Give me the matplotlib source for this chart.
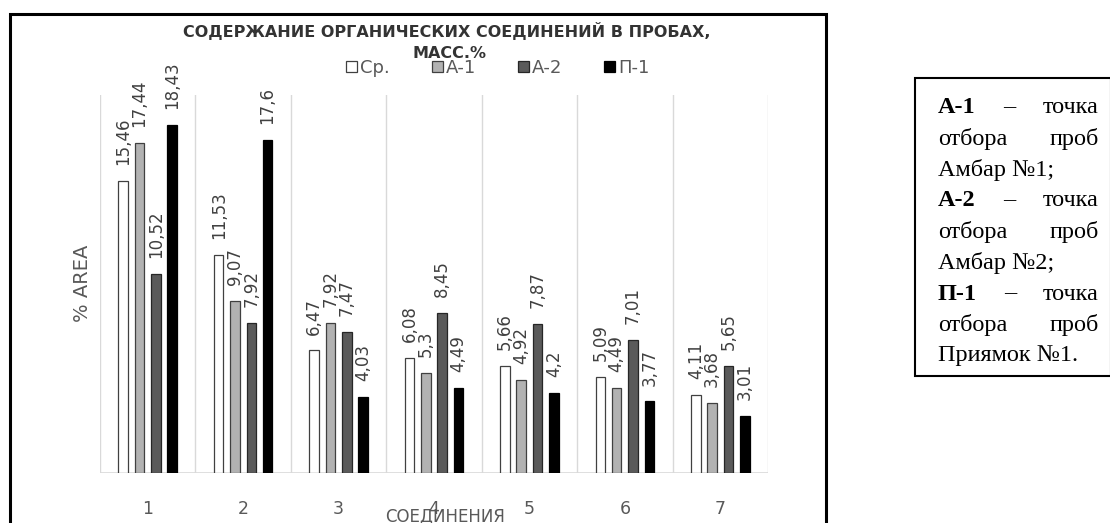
import numpy as np
import matplotlib
matplotlib.use("Agg")
import matplotlib.pyplot as plt
from matplotlib.patches import Patch, Rectangle

# содержание органических соединений, масс.%
compounds = ["1", "2", "3", "4", "5", "6", "7"]
series = ["Ср.", "А-1", "А-2", "П-1"]
sr = [15.46, 11.53, 6.47, 6.08, 5.66, 5.09, 4.11]
a1 = [17.44, 9.07, 7.92, 5.3, 4.92, 4.49, 3.68]
a2 = [10.52, 7.92, 7.47, 8.45, 7.87, 7.01, 5.65]
p1 = [18.43, 17.6, 4.03, 4.49, 4.2, 3.77, 3.01]

fills = ["white", "#b2b2b2", "#5a5a5a", "black"]
edges = ["#404040", "#404040", "#262626", "black"]

W, H = 1110, 523
fig = plt.figure(figsize=(W / 100, H / 100), dpi=100)
plt.rcParams["font.family"] = ["DejaVu Sans"]

ax = fig.add_axes([100 / W, 1 - 472.7 / H, 668 / W, 377.8 / H])
x = np.arange(1, len(compounds) + 1)
step, bw = 0.171, 0.1
for i, vals in enumerate([sr, a1, a2, p1]):
    pos = x + (i - 1.5) * step
    ax.bar(pos, vals, width=bw, color=fills[i], edgecolor=edges[i], linewidth=0.9, zorder=3)
    for xp, v in zip(pos, vals):
        ax.annotate(f"{v:g}".replace(".", ","), (xp, v), xytext=(0, 11.5),
                    textcoords="offset points", rotation=90, ha="center", va="bottom",
                    fontsize=12, color="#404040")

ax.set_xlim(0.5, 7.5)
ax.set_ylim(0, 20)
ax.set_xticks(x)
ax.set_xticklabels(compounds, fontsize=12.5, color="#595959")
ax.set_xticks(np.arange(0.5, 7.6, 1), minor=True)
ax.tick_params(axis="x", which="both", length=0, pad=20)
ax.set_yticks([])
ax.grid(axis="x", which="minor", color="#d9d9d9", linewidth=1, zorder=0)
ax.axhline(0, color="#d9d9d9", linewidth=1.2, zorder=1)
for s in ax.spines.values():
    s.set_visible(False)

fig.text(82 / W, 1 - 283 / H, "% AREA", rotation=90, ha="center", va="center",
         fontsize=14, color="#595959")
fig.text(445 / W, 1 - 516 / H, "СОЕДИНЕНИЯ", ha="center", va="center",
         fontsize=12, color="#595959")

# заголовок
fig.text(447 / W, 1 - 31 / H, "СОДЕРЖАНИЕ ОРГАНИЧЕСКИХ СОЕДИНЕНИЙ В ПРОБАХ,",
         ha="center", va="center", fontsize=11.5, fontweight="bold", color="#333333")
fig.text(449 / W, 1 - 53 / H, "МАСС.%", ha="center", va="center",
         fontsize=11.5, fontweight="bold", color="#333333")

handles = [Patch(facecolor=fills[i], edgecolor=edges[i], linewidth=0.9) for i in range(4)]
fig.legend(handles, series, loc="center", bbox_to_anchor=(498 / W, 1 - 68 / H),
           ncol=4, frameon=False, fontsize=13, handlelength=0.6, handleheight=0.6,
           handletextpad=0.2, columnspacing=2.3, borderpad=0, labelcolor="#595959")

# рамка диаграммы
fig.add_artist(Rectangle((10 / W, 1 - 540 / H), 816 / W, 526 / H, transform=fig.transFigure,
                         fill=False, edgecolor="black", linewidth=2.2, clip_on=False))

# поясняющий текст справа
fig.add_artist(Rectangle((915 / W, 1 - 375.5 / H), 196 / W, 298 / H, transform=fig.transFigure,
                         fill=False, edgecolor="black", linewidth=1.5, clip_on=False))

L, R = 938, 1099
serif = dict(family="Liberation Serif", fontsize=17.5, color="black", va="center")
lines = [
    [("А-1", "bold"), ("–", "normal"), ("точка", "normal")],
    [("отбора", "normal"), ("проб", "normal")],
    [("Амбар №1;", "normal")],
    [("А-2", "bold"), ("–", "normal"), ("точка", "normal")],
    [("отбора", "normal"), ("проб", "normal")],
    [("Амбар №2;", "normal")],
    [("П-1", "bold"), ("–", "normal"), ("точка", "normal")],
    [("отбора", "normal"), ("проб", "normal")],
    [("Приямок №1.", "normal")],
]
renderer = fig.canvas.get_renderer()
for k, words in enumerate(lines):
    y = 1 - (108 + 31 * k) / H
    arts = [fig.text(0, y, w, fontweight=wt, **serif) for w, wt in words]
    widths = [a.get_window_extent(renderer).width for a in arts]
    gap = (R - L - sum(widths)) / (len(arts) - 1) if len(arts) > 1 else 0
    xp = L
    for a, w in zip(arts, widths):
        a.set_x(xp / W)
        xp += w + gap

fig.savefig("out.png", dpi=100)
